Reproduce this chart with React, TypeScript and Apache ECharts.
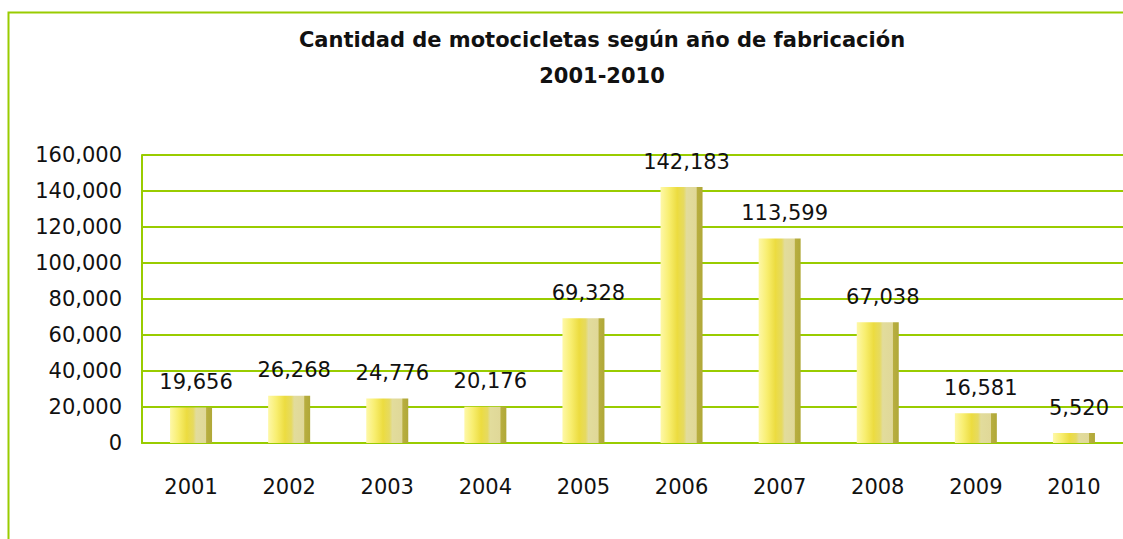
import React, { useEffect, useRef } from "react";
import * as echarts from "echarts";

const title1 = "Cantidad de motocicletas según año de fabricación";
const title2 = "2001-2010";
const years = ["2001", "2002", "2003", "2004", "2005", "2006", "2007", "2008", "2009", "2010"];
const counts = [19656, 26268, 24776, 20176, 69328, 142183, 113599, 67038, 16581, 5520];
const yMin = 0;
const yMax = 160000;
const yStep = 20000;

const fmt = (v: number) => v.toLocaleString("en-US");

export default function App() {
  const ref = useRef<HTMLDivElement>(null);
  useEffect(() => {
    if (!ref.current) return;
    const chart = echarts.init(ref.current, null, { renderer: "svg" });
    const green = "#99cc00";
    const barColor = new echarts.graphic.LinearGradient(0, 0, 1, 0, [
      { offset: 0, color: "#fef8a8" },
      { offset: 0.2, color: "#f8ee70" },
      { offset: 0.4, color: "#ecdc40" },
      { offset: 0.55, color: "#e6da60" },
      { offset: 0.62, color: "#e2dc9c" },
      { offset: 0.85, color: "#e0d898" },
      { offset: 0.87, color: "#b8ae40" },
      { offset: 1, color: "#b0a838" },
    ]);
    chart.setOption({
      animation: false,
      backgroundColor: "#ffffff",
      title: {
        text: title1 + "\n" + title2,
        left: 597,
        textAlign: "center",
        top: 17,
        textStyle: {
          fontFamily: "DejaVu Sans",
          fontWeight: "bold",
          fontSize: 21,
          color: "#111",
          lineHeight: 36,
        },
      },
      graphic: [
        {
          type: "rect",
          shape: { x: 8.5, y: 12.5, width: 1200, height: 600 },
          style: { fill: "none", stroke: green, lineWidth: 2 },
          silent: true,
        },
      ],
      grid: { left: 142, right: -3, top: 155, bottom: 96 },
      xAxis: {
        type: "category",
        data: years,
        axisLine: { show: true, lineStyle: { color: green, width: 2 } },
        axisTick: { show: false },
        axisLabel: {
          fontFamily: "DejaVu Sans",
          fontSize: 21,
          color: "#111",
          margin: 33,
        },
      },
      yAxis: {
        type: "value",
        min: yMin,
        max: yMax,
        interval: yStep,
        axisLine: { show: true, lineStyle: { color: green, width: 2 } },
        axisTick: { show: false },
        splitLine: { lineStyle: { color: green, width: 2 } },
        axisLabel: {
          fontFamily: "DejaVu Sans",
          fontSize: 21,
          color: "#111",
          margin: 20,
          formatter: (v: number) => fmt(v),
        },
      },
      series: [
        {
          type: "bar",
          data: counts,
          barWidth: 42,
          itemStyle: { color: barColor },
          label: {
            show: true,
            position: "top",
            distance: 15,
            offset: [5, 0],
            fontFamily: "DejaVu Sans",
            fontSize: 21,
            color: "#111",
            formatter: (p: any) => fmt(p.value),
          },
        },
      ],
    });
    return () => chart.dispose();
  }, []);
  return (
    <div
      ref={ref}
      style={{ position: "fixed", left: 0, top: 0, width: 1123, height: 539 }}
    />
  );
}
